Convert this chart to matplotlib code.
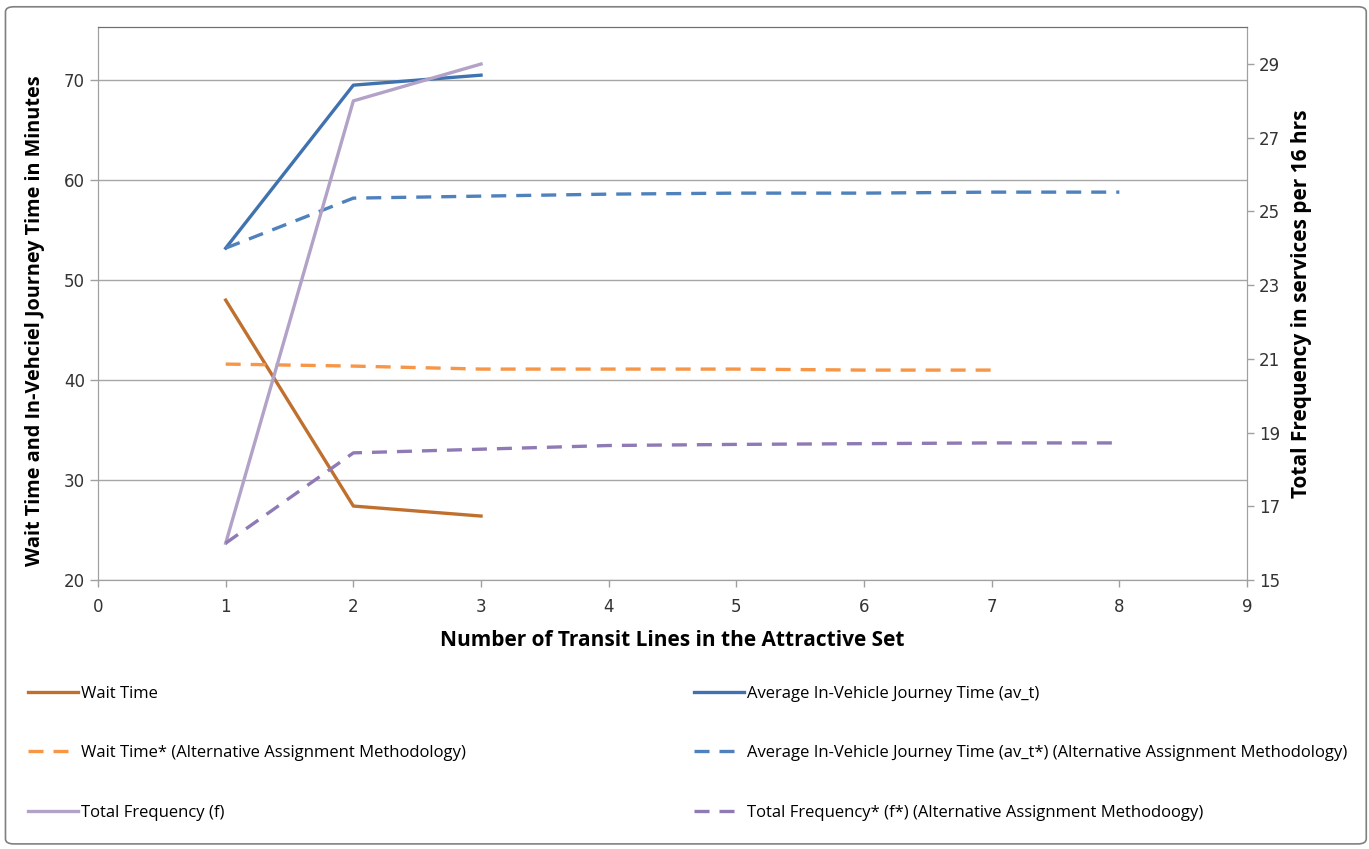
import numpy as np
import matplotlib
matplotlib.use("Agg")
import matplotlib.pyplot as plt
from matplotlib.patches import FancyBboxPatch

# data
lines_short = [1, 2, 3]
wait_time = [48.0, 27.4, 26.4]
avg_ivt = [53.2, 69.5, 70.5]
total_freq = [16.0, 28.0, 29.0]

lines_wait_alt = [1, 2, 3, 4, 5, 6, 7]
wait_time_alt = [41.6, 41.4, 41.1, 41.1, 41.1, 41.0, 41.0]

lines_long = [1, 2, 3, 4, 5, 6, 7, 8]
avg_ivt_alt = [53.2, 58.2, 58.4, 58.6, 58.7, 58.7, 58.8, 58.8]
total_freq_alt = [16.0, 18.45, 18.55, 18.65, 18.68, 18.7, 18.72, 18.72]

left_ticks = [20, 30, 40, 50, 60, 70]
right_ticks = [15, 17, 19, 21, 23, 25, 27, 29]
x_ticks = list(range(0, 10))

plt.rcParams['font.family'] = ['Open Sans', 'DejaVu Sans']

fig = plt.figure(figsize=(13.69, 8.49), dpi=100)
ax = fig.add_axes([0.0716, 0.3168, 0.9109 - 0.0716, 0.968 - 0.3168])
ax2 = ax.twinx()

lw = 2.4
dash = (4.5, 3)
l1, = ax.plot(lines_short, wait_time, color='#C0702E', lw=lw, label='Wait Time')
l2, = ax.plot(lines_short, avg_ivt, color='#3F72AF', lw=lw,
              label='Average In-Vehicle Journey Time (av_t)')
l3, = ax.plot(lines_wait_alt, wait_time_alt, color='#F79646', lw=lw, dashes=dash,
              label='Wait Time* (Alternative Assignment Methodology)')
l4, = ax.plot(lines_long, avg_ivt_alt, color='#4F81BD', lw=lw, dashes=dash,
              label='Average In-Vehicle Journey Time (av_t*) (Alternative Assignment Methodology)')
l5, = ax2.plot(lines_short, total_freq, color='#B3A2C7', lw=lw, label='Total Frequency (f)')
l6, = ax2.plot(lines_long, total_freq_alt, color='#8F7AB5', lw=lw, dashes=dash,
               label='Total Frequency* (f*) (Alternative Assignment Methodoogy)')

ax.set_xlim(0, 9)
ax.set_ylim(20, 75.3)
ax2.set_ylim(15, 30)
ax.set_xticks(x_ticks)
ax.set_yticks(left_ticks)
ax2.set_yticks(right_ticks)
ax.yaxis.grid(True, color='#A6A6A6', lw=1)
ax.set_axisbelow(True)

for a in (ax, ax2):
    for s in a.spines.values():
        s.set_color('#A0A0A0')
    a.spines['top'].set_color('#6E6E6E')
    a.tick_params(colors='#A0A0A0', length=5, width=1, labelcolor='#333333')
ax.tick_params(axis='both', labelsize=12, direction='out')
ax.tick_params(axis='y', length=6)
ax2.tick_params(axis='y', labelsize=12)
for t in ax.get_yticklabels() + ax.get_xticklabels():
    t.set_family('DejaVu Sans')
for t in ax2.get_yticklabels():
    t.set_family(['Liberation Sans Narrow', 'DejaVu Sans'])
ax.tick_params(axis='x', pad=8)

ax.set_xlabel('Number of Transit Lines in the Attractive Set', fontsize=15,
              fontweight='bold', labelpad=10)
ax.set_ylabel('Wait Time and In-Vehciel Journey Time in Minutes',
              fontsize=14.3, fontweight='bold')
ax.yaxis.set_label_coords(-0.046, 0.47)
ax2.set_ylabel('Total Frequency in services per 16 hrs', fontsize=15,
               fontweight='bold', labelpad=8)

# two legend columns placed separately, as in the reference
leg_kw = dict(loc='upper left', ncol=1, frameon=False, fontsize=12,
              handlelength=3.0, handletextpad=0.2, labelspacing=2.6,
              borderpad=0, borderaxespad=0)
left_col = [l1, l3, l5]
right_col = [l2, l4, l6]
leg1 = fig.legend(handles=left_col, labels=[h.get_label() for h in left_col],
                  bbox_to_anchor=(28 / 1369, 1 - 686 / 849), **leg_kw)
leg2 = fig.legend(handles=right_col, labels=[h.get_label() for h in right_col],
                  bbox_to_anchor=(694 / 1369, 1 - 686 / 849), **leg_kw)

border = FancyBboxPatch((0.004, 0.006), 0.994, 0.986, transform=fig.transFigure,
                        boxstyle='round,pad=0,rounding_size=0.006',
                        fc='none', ec='#808080', lw=1.2)
fig.patches.append(border)

fig.savefig('out.png', dpi=100)
